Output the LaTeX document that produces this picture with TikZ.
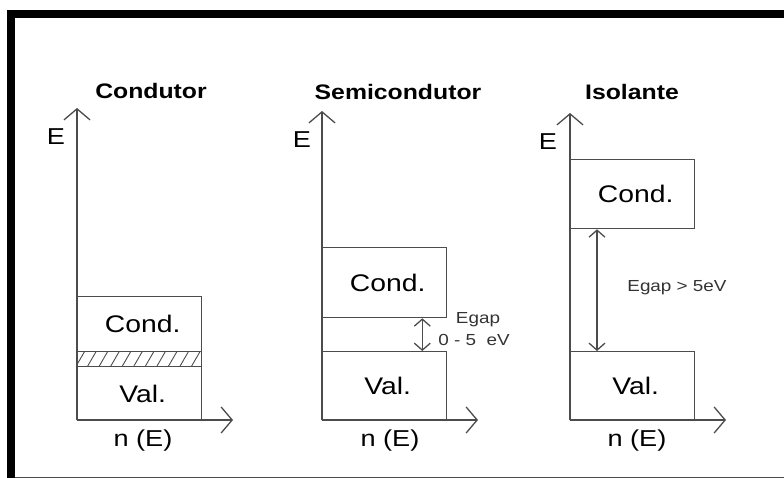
\documentclass[tikz,border=0pt]{standalone}
\usepackage{fontspec}
\setmainfont[FakeStretch=1.18]{Liberation Sans}
\usetikzlibrary{arrows.meta,patterns.meta}
\begin{document}
\begin{tikzpicture}[x=1pt,y=-1pt,
    ln/.style={line width=1.3pt,draw=black!70},
    axis/.style={ln,-{Straight Barb[length=11pt,width=26pt]}},
    gaparrow/.style={ln,{Straight Barb[length=7pt,width=16pt]}-{Straight Barb[length=7pt,width=16pt]}},
    band/.style={ln,rectangle,anchor=north west,inner sep=0pt,minimum width=124pt,font=\fontsize{24}{28}\selectfont},
    title/.style={font=\bfseries\fontsize{21}{24}\selectfont},
    lbl/.style={font=\fontsize{23}{26}\selectfont},
    small/.style={font=\fontsize{16}{18}\selectfont,text=black!80,inner sep=0pt}]
    \useasboundingbox (0,0) rectangle (784,478);
    % frame
    \fill (7,10) rectangle (784,18);
    \fill (7,10) rectangle (15,478);
    \draw[black!70,line width=1pt] (15,477.5) -- (784,477.5);
    % condutor
    \coordinate (o1) at (77,420);
    \coordinate (ey1) at (77,108);
    \coordinate (nx1) at (233,420);
    \node[band,minimum height=55pt] (cond1) at (77,296) {\hspace{6pt}Cond.};
    \node[band,minimum height=15pt,pattern={Lines[angle=60,distance=10pt,line width=0.9pt]},pattern color=black!70] (fermi1) at (77,351) {};
    \node[band,minimum height=54pt] (val1) at (77,366) {\hspace{6pt}Val.};
    \draw[axis] (o1) -- (ey1);
    \draw[axis] (o1) -- (nx1);
    \node[title] (tit1) at (151,91) {Condutor};
    \node[lbl] (e1) at (56,137) {E};
    \node[lbl] (n1) at (143,441) {n (E)};
    % semicondutor
    \coordinate (o2) at (322,420);
    \coordinate (ey2) at (322,111);
    \coordinate (nx2) at (478,420);
    \node[band,minimum height=70pt] (cond2) at (322,247) {\hspace{6pt}Cond.};
    \node[band,minimum height=69pt] (val2) at (322,351) {\hspace{6pt}Val.};
    \draw[axis] (o2) -- (ey2);
    \draw[axis] (o2) -- (nx2);
    \draw[gaparrow] ([xshift=-25pt]cond2.south east) -- ([xshift=-25pt]val2.north east);
    \node[title] (tit2) at (398,92) {Semicondutor};
    \node[lbl] (e2) at (302,140) {E};
    \node[lbl] (n2) at (390,441) {n (E)};
    \node[small] (gap2) at (478,320) {Egap};
    \node[small] (val2gap) at (474,340) {0 - 5 \ eV};
    % isolante
    \coordinate (o3) at (570,420);
    \coordinate (ey3) at (570,113);
    \coordinate (nx3) at (726,420);
    \node[band,minimum height=69pt] (cond3) at (570,159) {\hspace{6pt}Cond.};
    \node[band,minimum height=69pt] (val3) at (570,351) {\hspace{6pt}Val.};
    \draw[axis] (o3) -- (ey3);
    \draw[axis] (o3) -- (nx3);
    \draw[gaparrow] ([xshift=27pt]cond3.south west) -- ([xshift=27pt]val3.north west);
    \node[title] (tit3) at (632,92) {Isolante};
    \node[lbl] (e3) at (548,142) {E};
    \node[lbl] (n3) at (637,441) {n (E)};
    \node[small] (gap3) at (677,288) {Egap > 5eV};
\end{tikzpicture}
\end{document}
